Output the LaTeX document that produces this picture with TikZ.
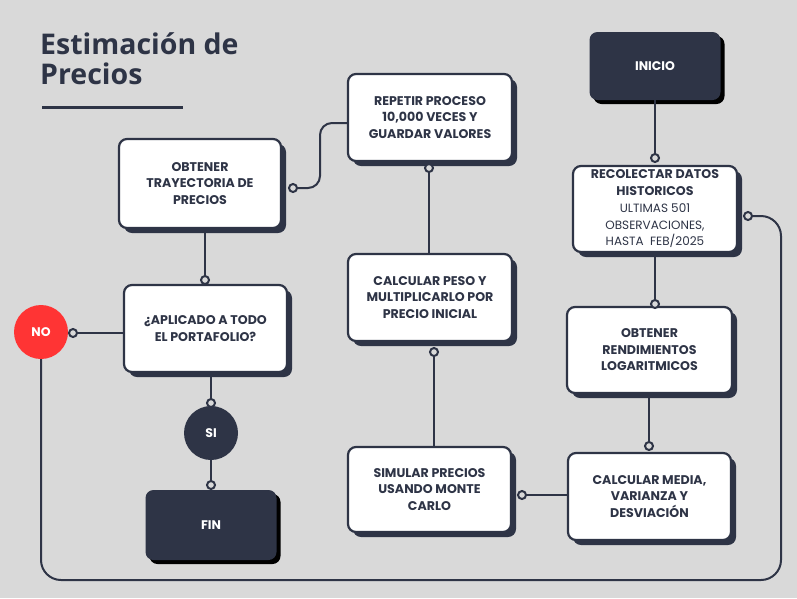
\documentclass[tikz,border=0pt]{standalone}
\usepackage{fontspec}
\setmainfont{Poppins}
\newfontfamily\titlefont{Open Sans}
\usetikzlibrary{shadows}
\definecolor{bg}{HTML}{D9D9D9}
\definecolor{navy}{HTML}{2E3446}
\definecolor{redno}{HTML}{FF3434}
\tikzset{
  wbox/.style={draw=navy, line width=2.2pt, fill=white, rounded corners=8pt,
    text=navy, font=\fontsize{12.6}{16.5}\selectfont\bfseries, align=center, inner sep=0pt,
    drop shadow={shadow xshift=5pt, shadow yshift=-5pt, fill=navy, opacity=1}},
  dbox/.style={fill=navy, rounded corners=8pt, text=white,
    font=\fontsize{12.5}{15}\selectfont\bfseries, inner sep=0pt,
    drop shadow={shadow xshift=4pt, shadow yshift=-4pt, fill=black, opacity=1}},
  conn/.style={draw=navy, line width=2pt},
  dot/.style={circle, draw=navy, line width=2pt, fill=bg, minimum size=8pt, inner sep=0pt},
  rcirc/.style={circle, minimum size=54pt, inner sep=0pt, text=white, font=\fontsize{12.5}{15}\selectfont\bfseries}
}
\newcommand{\regl}[1]{{\mdseries\fontsize{12}{15}\selectfont #1}}
\begin{document}
\begin{tikzpicture}[x=1pt,y=-1pt]
\path[fill=bg] (0,0) rectangle (797,598);
% title
\node[anchor=north west, inner sep=0pt, text=navy, align=left,
  font=\titlefont\fontsize{28.5}{30}\selectfont\bfseries] (title) at (40,32) {Estimación de\\Precios};
\draw[navy, line width=3pt] (42,107) coordinate (u1) -- (183,107) coordinate (u2);
% boxes
\node[dbox, minimum width=131pt, minimum height=68pt] (inicio) at (655,66) {INICIO};
\node[wbox, minimum width=164pt, minimum height=86pt] (recol) at (655,209)
  {RECOLECTAR DATOS\\HISTORICOS\\[1pt]\regl{ULTIMAS 501}\\\regl{OBSERVACIONES,}\\\regl{HASTA\ \ FEB/2025}};
\node[wbox, minimum width=165pt, minimum height=86pt] (rend) at (649.5,350) {OBTENER\\RENDIMIENTOS\\LOGARITMICOS};
\node[wbox, minimum width=163pt, minimum height=87pt] (media) at (649.5,496.5) {CALCULAR MEDIA,\\VARIANZA Y\\DESVIACIÓN};
\node[wbox, minimum width=163pt, minimum height=85pt] (simular) at (429.5,489.5) {SIMULAR PRECIOS\\USANDO MONTE\\CARLO};
\node[wbox, minimum width=164pt, minimum height=87pt] (peso) at (430,297.5) {CALCULAR PESO Y\\MULTIPLICARLO POR\\PRECIO INICIAL};
\node[wbox, minimum width=164pt, minimum height=87pt] (repetir) at (430,117.5) {REPETIR PROCESO\\10,000 VECES Y\\GUARDAR VALORES};
\node[wbox, minimum width=162pt, minimum height=89pt] (trayect) at (200,183.5) {OBTENER\\TRAYECTORIA DE\\PRECIOS};
\node[wbox, minimum width=163pt, minimum height=87pt] (aplic) at (205.5,328.5) {¿APLICADO A TODO\\EL PORTAFOLIO?};
\node[rcirc, fill=redno] (no) at (41,332) {NO};
\node[rcirc, fill=navy] (si) at (211,433) {SI};
\node[dbox, minimum width=131pt, minimum height=70pt] (fin) at (211,525) {FIN};
% dot coordinates
\coordinate (d1) at (655,158);
\coordinate (d2) at (655,304);
\coordinate (d3) at (649,446);
\coordinate (d4) at (522,495);
\coordinate (d5) at (434,352);
\coordinate (d6) at (429,168);
\coordinate (d7) at (293,188);
\coordinate (d8) at (205,280);
\coordinate (d9) at (73,333);
\coordinate (d10) at (211,403);
\coordinate (d11) at (211,485);
\coordinate (d12) at (748,216);
\coordinate (k1) at (320,123);
\coordinate (k2) at (781,580);
% connectors
\draw[conn] (inicio) -- (d1);
\draw[conn] (recol.south -| d2) -- (d2);
\draw[conn] (rend.south -| d3) -- (d3);
\draw[conn] (media.west |- d4) -- (d4);
\draw[conn] (simular.north -| d5) -- (d5);
\draw[conn] (peso.north -| d6) -- (d6);
\draw[conn, rounded corners=12pt] (repetir.west |- k1) -- (k1) -- (k1 |- d7) -- (d7);
\draw[conn] (trayect.south -| d8) -- (d8);
\draw[conn] (aplic.west |- d9) -- (d9);
\draw[conn] (aplic.south -| d10) -- (d10);
\draw[conn] (si) -- (d11);
\draw[conn, rounded corners=20pt] (no.south) -- (no.south |- k2) -- (k2) -- (k2 |- d12) -- (d12);
% dots
\foreach \d in {d1,d2,d3,d4,d5,d6,d7,d8,d9,d10,d11,d12}
  \node[dot] at (\d) {};
\end{tikzpicture}
\end{document}
